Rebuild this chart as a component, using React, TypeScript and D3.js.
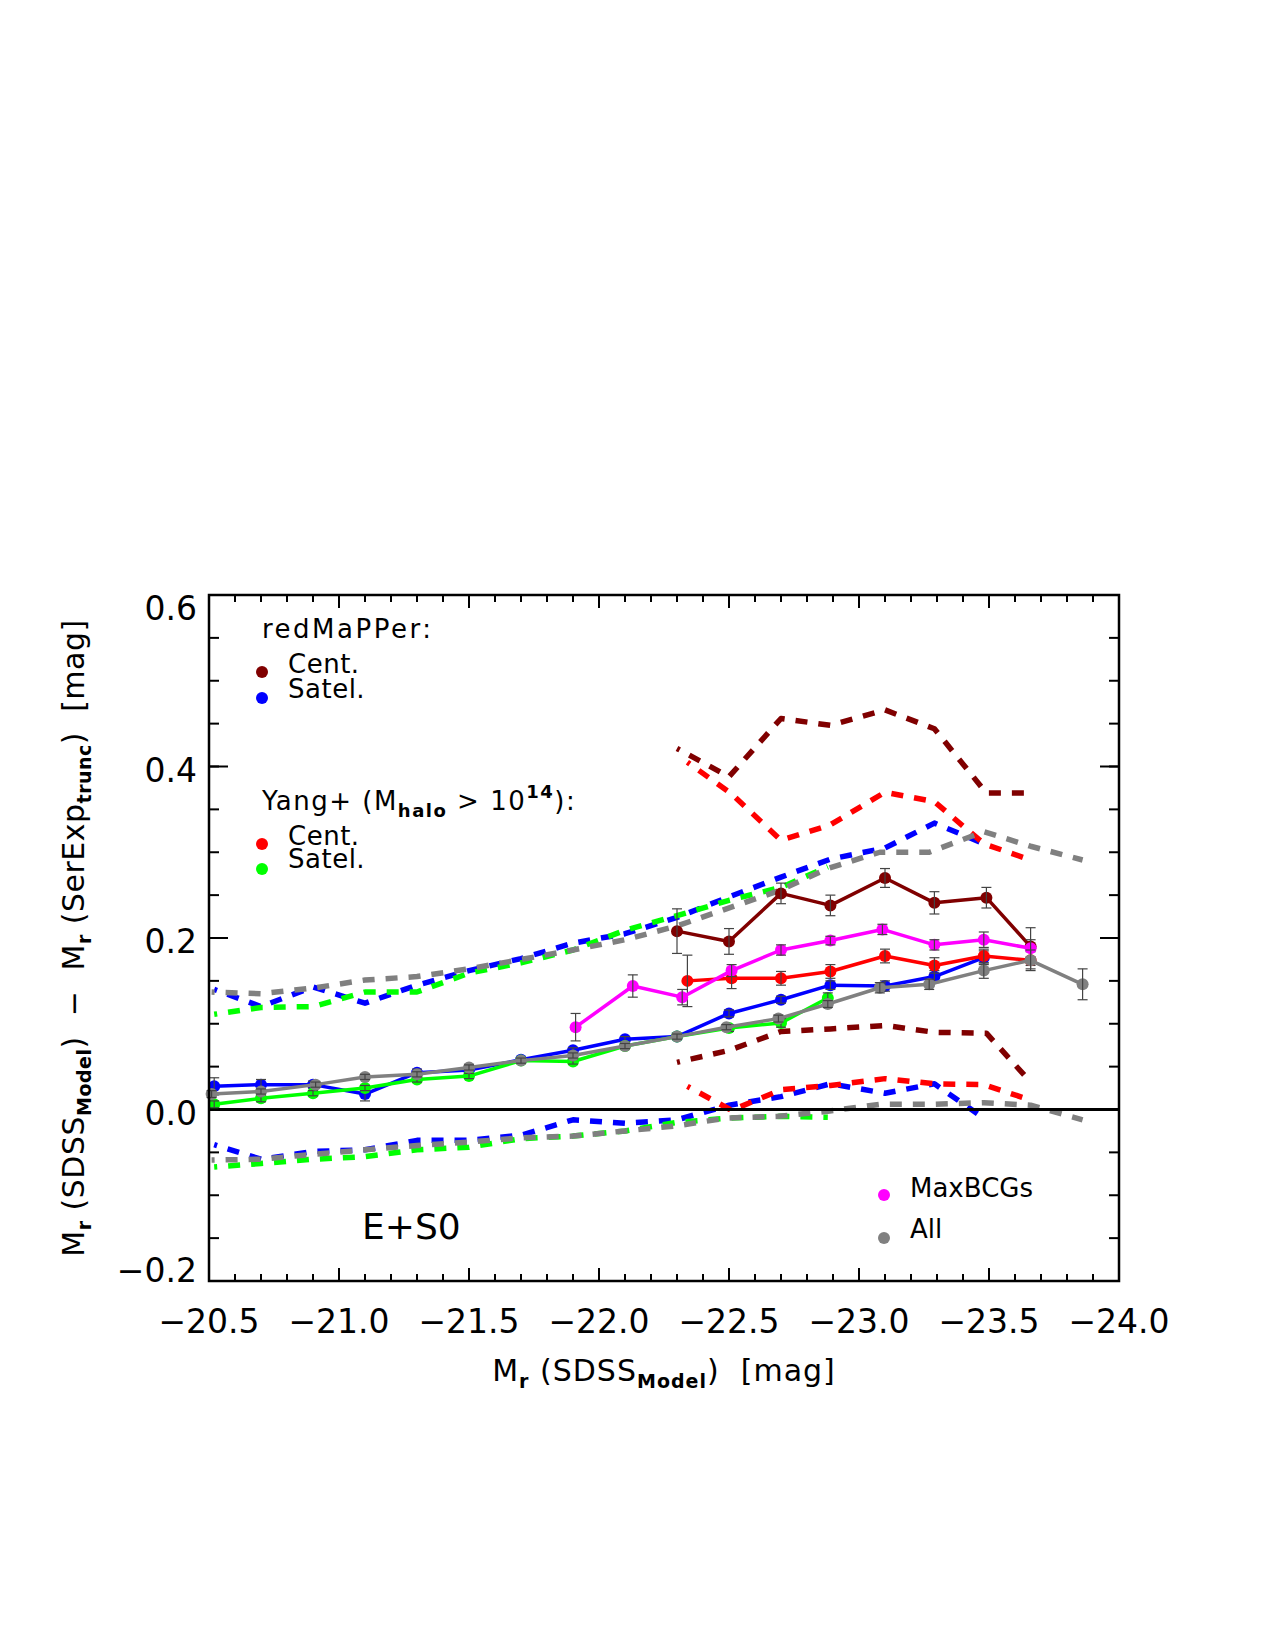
import React from 'react';
import * as d3 from 'd3';

// mean M_r of each bin, per sample
const magRmCen = [-22.30, -22.50, -22.70, -22.89, -23.10, -23.29, -23.49, -23.66];
const magRmSat = [-20.52, -20.70, -20.90, -21.10, -21.30, -21.50, -21.70, -21.90, -22.10, -22.30, -22.50, -22.70, -22.89, -23.10, -23.29, -23.48];
const magYgCen = [-22.34, -22.51, -22.70, -22.89, -23.10, -23.29, -23.48, -23.66];
const magYgSat = [-20.52, -20.70, -20.90, -21.10, -21.30, -21.50, -21.70, -21.90, -22.10, -22.30, -22.50, -22.70, -22.88];
const magMaxBCG = [-21.91, -22.13, -22.32, -22.51, -22.70, -22.89, -23.09, -23.29, -23.48, -23.66];
const magAll = [-20.51, -20.70, -20.91, -21.10, -21.30, -21.50, -21.70, -21.90, -22.10, -22.30, -22.49, -22.69, -22.88, -23.08, -23.27, -23.48, -23.66, -23.86];

// median offsets and their errors
const medRmCen = [0.208, 0.196, 0.252, 0.238, 0.270, 0.241, 0.247, 0.190];
const errRmCen = [0.026, 0.015, 0.012, 0.012, 0.011, 0.013, 0.012, 0.022];
const medRmSat = [0.027, 0.029, 0.029, 0.018, 0.043, 0.046, 0.058, 0.069, 0.082, 0.085, 0.112, 0.128, 0.145, 0.144, 0.155, 0.177];
const errRmSat = [0.010, 0.006, 0.004, 0.008, 0.004, 0.003, 0.003, 0.003, 0.003, 0.003, 0.004, 0.004, 0.005, 0.006, 0.007, 0.008];
const medYgCen = [0.150, 0.153, 0.153, 0.161, 0.179, 0.168, 0.179, 0.174];
const errYgCen = [0.030, 0.012, 0.008, 0.008, 0.008, 0.009, 0.008, 0.010];
const medYgSat = [0.006, 0.013, 0.019, 0.025, 0.035, 0.039, 0.057, 0.056, 0.074, 0.085, 0.095, 0.101, 0.130];
const errYgSat = [0.004, 0.004, 0.003, 0.003, 0.003, 0.003, 0.003, 0.003, 0.003, 0.003, 0.004, 0.005, 0.006];
const medMaxBCG = [0.096, 0.144, 0.131, 0.162, 0.186, 0.197, 0.210, 0.192, 0.198, 0.188];
const errMaxBCG = [0.016, 0.013, 0.009, 0.007, 0.006, 0.005, 0.006, 0.006, 0.009, 0.010];
const medAll = [0.018, 0.021, 0.029, 0.038, 0.041, 0.049, 0.057, 0.063, 0.074, 0.085, 0.096, 0.106, 0.123, 0.142, 0.146, 0.162, 0.174, 0.146];
const errAll = [0.004, 0.003, 0.003, 0.003, 0.003, 0.003, 0.003, 0.003, 0.003, 0.003, 0.003, 0.004, 0.004, 0.006, 0.006, 0.009, 0.012, 0.018];

// scatter envelopes (upper / lower)
const hiRmCen = [0.421, 0.388, 0.456, 0.448, 0.466, 0.444, 0.369, 0.369];
const loRmCen = [0.055, 0.069, 0.091, 0.094, 0.098, 0.090, 0.089, 0.032];
const hiYgCen = [0.405, 0.368, 0.314, 0.332, 0.370, 0.359, 0.310, 0.291];
const loYgCen = [0.027, -0.001, 0.023, 0.028, 0.036, 0.030, 0.029, 0.011];
const hiRmSat = [0.140, 0.120, 0.143, 0.124, 0.145, 0.162, 0.176, 0.194, 0.205, 0.224, 0.248, 0.271, 0.292, 0.305, 0.334, 0.310];
const loRmSat = [-0.041, -0.058, -0.049, -0.047, -0.036, -0.036, -0.030, -0.012, -0.016, -0.012, 0.005, 0.015, 0.030, 0.019, 0.030, -0.010];
const hiYgSat = [0.111, 0.119, 0.120, 0.137, 0.137, 0.159, 0.171, 0.186, 0.209, 0.226, 0.244, 0.259, 0.283];
const loYgSat = [-0.067, -0.063, -0.058, -0.055, -0.047, -0.044, -0.034, -0.031, -0.025, -0.015, -0.010, -0.008, -0.009];
const hiAll = [0.137, 0.135, 0.142, 0.151, 0.155, 0.164, 0.175, 0.186, 0.198, 0.214, 0.234, 0.255, 0.281, 0.300, 0.300, 0.324, 0.307, 0.291];
const loAll = [-0.059, -0.058, -0.052, -0.047, -0.042, -0.038, -0.033, -0.031, -0.025, -0.019, -0.010, -0.008, -0.002, 0.006, 0.006, 0.008, 0.005, -0.012];

const xTickLabels = ['−20.5', '−21.0', '−21.5', '−22.0', '−22.5', '−23.0', '−23.5', '−24.0'];
const yTickLabels = ['−0.2', '0.0', '0.2', '0.4', '0.6'];

const DARKRED = '#800000';
const RED = '#ff0000';
const BLUE = '#0000ff';
const GREEN = '#00ff00';
const MAGENTA = '#ff00ff';
const GRAY = '#808080';

const FONT = '"DejaVu Sans", "Liberation Sans", sans-serif';

const left = 209, right = 1119, top = 595, bottom = 1281;
const x = d3.scaleLinear().domain([-20.5, -24.0]).range([left, right]);
const y = d3.scaleLinear().domain([-0.2, 0.6]).range([bottom, top]);

type Pt = [number, number];
const zip = (m: number[], v: number[]): Pt[] => m.map((d, i) => [d, v[i]]);
const line = d3.line<Pt>().x(d => x(d[0])).y(d => y(d[1]));

const Dashed = ({ m, v, color }: { m: number[]; v: number[]; color: string }) => (
  <path d={line(zip(m, v)) ?? ''} fill="none" stroke={color} strokeWidth={5.5}
    strokeDasharray="12 11" strokeDashoffset={9} strokeLinejoin="round" />
);

const Series = ({ m, v, e, color }: { m: number[]; v: number[]; e: number[]; color: string }) => (
  <g>
    <path d={line(zip(m, v)) ?? ''} fill="none" stroke={color} strokeWidth={3.5} strokeLinejoin="round" />
    {m.map((d, i) => <circle key={i} cx={x(d)} cy={y(v[i])} r={6} fill={color} />)}
    {m.map((d, i) => {
      const cx = x(d), y0 = y(v[i] - e[i]), y1 = y(v[i] + e[i]);
      return (
        <g key={'e' + i} stroke="#444" strokeWidth={1.2}>
          <line x1={cx} x2={cx} y1={y0} y2={y1} />
          <line x1={cx - 5} x2={cx + 5} y1={y0} y2={y0} />
          <line x1={cx - 5} x2={cx + 5} y1={y1} y2={y1} />
        </g>
      );
    })}
  </g>
);

// text pieces: [string, shift] where shift > 0 is a subscript, < 0 a superscript
type Piece = [string, number?];
const Rich = ({ parts, small }: { parts: Piece[]; small: number }) => {
  let cur = 0;
  return (
    <>
      {parts.map(([t, s = 0], i) => {
        const dy = s - cur;
        cur = s;
        return (
          <tspan key={i} dy={dy || undefined} fontSize={s ? small : undefined}
            fontWeight={s ? 'bold' : undefined}>{t}</tspan>
        );
      })}
    </>
  );
};

export default function App() {
  const xMajor = d3.range(0, 8).map(i => -20.5 - 0.5 * i);
  const xMinor = d3.range(0, 36).map(i => -20.5 - 0.1 * i);
  const yMajor = [-0.2, 0, 0.2, 0.4, 0.6];
  const yMinor = d3.range(0, 17).map(i => -0.2 + 0.05 * i);

  return (
    <svg width={1275} height={1650} style={{ position: 'absolute', left: 0, top: 0, background: '#fff' }}
      fontFamily={FONT}>
      <rect width={1275} height={1650} fill="#fff" />

      {/* scatter envelopes */}
      <Dashed m={magRmCen} v={hiRmCen} color={DARKRED} />
      <Dashed m={magRmCen} v={loRmCen} color={DARKRED} />
      <Dashed m={magRmSat} v={hiRmSat} color={BLUE} />
      <Dashed m={magRmSat} v={loRmSat} color={BLUE} />
      <Dashed m={magYgCen} v={hiYgCen} color={RED} />
      <Dashed m={magYgCen} v={loYgCen} color={RED} />
      <Dashed m={magYgSat} v={hiYgSat} color={GREEN} />
      <Dashed m={magYgSat} v={loYgSat} color={GREEN} />
      <Dashed m={magAll} v={hiAll} color={GRAY} />
      <Dashed m={magAll} v={loAll} color={GRAY} />

      <line x1={left} x2={right} y1={y(0)} y2={y(0)} stroke="#000" strokeWidth={3} />

      {/* medians */}
      <Series m={magRmCen} v={medRmCen} e={errRmCen} color={DARKRED} />
      <Series m={magRmSat} v={medRmSat} e={errRmSat} color={BLUE} />
      <Series m={magYgCen} v={medYgCen} e={errYgCen} color={RED} />
      <Series m={magYgSat} v={medYgSat} e={errYgSat} color={GREEN} />
      <Series m={magMaxBCG} v={medMaxBCG} e={errMaxBCG} color={MAGENTA} />
      <Series m={magAll} v={medAll} e={errAll} color={GRAY} />

      {/* frame and ticks */}
      <rect x={left} y={top} width={right - left} height={bottom - top} fill="none" stroke="#000" strokeWidth={2.5} />
      <g stroke="#000" strokeWidth={2}>
        {xMinor.map((d, i) => (
          <g key={'xm' + i}>
            <line x1={x(d)} x2={x(d)} y1={bottom} y2={bottom - 7} />
            <line x1={x(d)} x2={x(d)} y1={top} y2={top + 7} />
          </g>
        ))}
        {xMajor.map((d, i) => (
          <g key={'xM' + i}>
            <line x1={x(d)} x2={x(d)} y1={bottom} y2={bottom - 13} />
            <line x1={x(d)} x2={x(d)} y1={top} y2={top + 13} />
          </g>
        ))}
        {yMinor.map((d, i) => (
          <g key={'ym' + i}>
            <line x1={left} x2={left + 10} y1={y(d)} y2={y(d)} />
            <line x1={right} x2={right - 10} y1={y(d)} y2={y(d)} />
          </g>
        ))}
        {yMajor.map((d, i) => (
          <g key={'yM' + i}>
            <line x1={left} x2={left + 19} y1={y(d)} y2={y(d)} />
            <line x1={right} x2={right - 19} y1={y(d)} y2={y(d)} />
          </g>
        ))}
      </g>

      <g fontSize={33} fill="#000">
        {xMajor.map((d, i) => (
          <text key={'xl' + i} x={x(d)} y={bottom + 52} textAnchor="middle">{xTickLabels[i]}</text>
        ))}
        {yMajor.map((d, i) => (
          <text key={'yl' + i} x={left - 12} y={Math.min(Math.max(y(d) + 15, top + 24.5), bottom + 0.5)}
            textAnchor="end">{yTickLabels[i]}</text>
        ))}
      </g>

      {/* axis titles */}
      <text x={(left + right) / 2} y={1381} fontSize={30} letterSpacing={1} textAnchor="middle"
        style={{ whiteSpace: 'pre' }}>
        <Rich small={19} parts={[['M'], ['r', 7], [' (SDSS'], ['Model', 7], [')  [mag]']]} />
      </text>
      <text transform={`translate(84,${(top + bottom) / 2}) rotate(-90)`} fontSize={30} letterSpacing={0.5}
        textAnchor="middle" style={{ whiteSpace: 'pre' }}>
        <Rich small={19} parts={[['M'], ['r', 7], [' (SDSS'], ['Model', 7], [')  −  M'], ['r', 7],
          [' (SerExp'], ['trunc', 7], [')  [mag]']]} />
      </text>

      {/* legends */}
      <g fontSize={26} fill="#000" style={{ whiteSpace: 'pre' }}>
        <text x={262} y={638} letterSpacing={2.5}>redMaPPer:</text>
        <circle cx={262} cy={672} r={6} fill={DARKRED} />
        <text x={288} y={673} letterSpacing={0.5}>Cent.</text>
        <circle cx={262} cy={698} r={6} fill={BLUE} />
        <text x={288} y={698} letterSpacing={0.5}>Satel.</text>

        <text x={262} y={810} letterSpacing={1.5}>
          <Rich small={18} parts={[['Yang+  (M'], ['halo', 7], ['  >  10'], ['14', -12], ['):']]} />
        </text>
        <circle cx={262} cy={844} r={6} fill={RED} />
        <text x={288} y={845} letterSpacing={0.5}>Cent.</text>
        <circle cx={262} cy={869} r={6} fill={GREEN} />
        <text x={288} y={868} letterSpacing={0.5}>Satel.</text>

        <circle cx={884} cy={1195} r={6} fill={MAGENTA} />
        <text x={910} y={1197}>MaxBCGs</text>
        <circle cx={884} cy={1238} r={6} fill={GRAY} />
        <text x={910} y={1238}>All</text>
      </g>

      <text x={362} y={1239} fontSize={36}>E+S0</text>
    </svg>
  );
}
